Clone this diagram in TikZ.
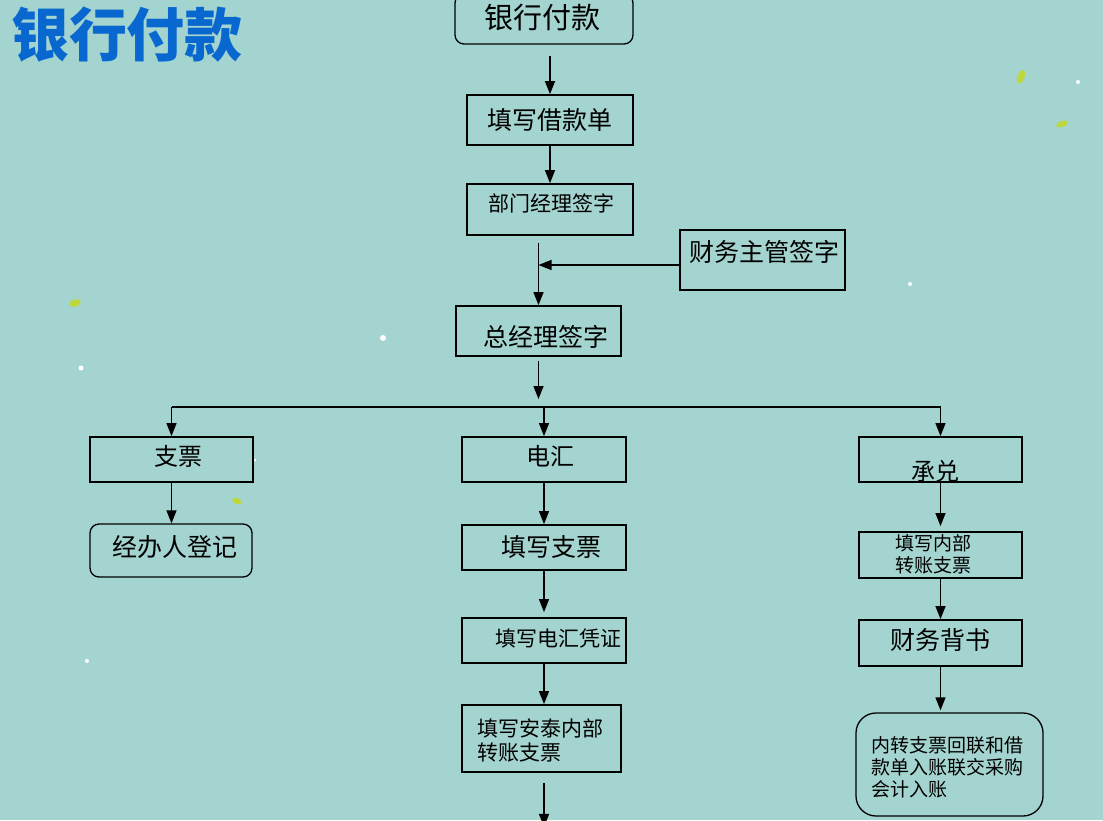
\documentclass[tikz,border=0pt]{standalone}
\usepackage{fontspec}
\setmainfont{Noto Sans CJK SC}
\usetikzlibrary{arrows.meta,calc}
\definecolor{bg}{RGB}{164,212,207}
\definecolor{titleblue}{RGB}{8,104,208}
\definecolor{leaf}{RGB}{190,215,60}
\newcommand{\fsz}[1]{\fontsize{#1}{#1}\selectfont}
\tikzset{
  box/.style={draw=black, line width=1.8pt, inner sep=0pt},
  rbox/.style={box, line width=1.3pt, rounded corners=9pt},
  arr/.style={line width=1.4pt, -{Triangle[length=13pt,width=10pt]}},
  plain/.style={line width=1.4pt},
  txt/.style={inner sep=0pt, text=black},
  ltxt/.style={txt, anchor=west, align=left},
}
\begin{document}
\begin{tikzpicture}[x=1pt,y=-1pt]
\fill[bg] (0,0) rectangle (1103,820);
\useasboundingbox (0,0) rectangle (1103,820);

% decorations
\fill[leaf, rotate around={-20:(1021,77)}] (1021,77) ellipse (3.5pt and 7pt);
\fill[leaf, rotate around={20:(1062,124)}] (1062,124) ellipse (6pt and 3pt);
\fill[leaf, rotate around={15:(75,303)}] (75,303) ellipse (6pt and 3.5pt);
\fill[leaf, rotate around={-20:(237,501)}] (237,501) ellipse (5pt and 3pt);
\fill[white] (1078,82) circle (2pt);
\fill[white] (910,284) circle (2pt);
\fill[white] (383,338) circle (3pt);
\fill[white] (81,368) circle (2.5pt);
\fill[white] (87,661) circle (2pt);
\fill[white] (255,460) circle (1.5pt);

% title
\node[txt, text=titleblue, font=\bfseries\fsz{58}] (title) at (127,35) {银行付款};

% boxes
\node[rbox, minimum width=178pt, minimum height=50pt] (b1) at (544,19) {};
\node[txt, font=\fsz{29}] (t1) at (542,18) {银行付款};

\node[box, minimum width=166pt, minimum height=50pt, font=\fsz{25}] (b2) at (550,120) {填写借款单};

\node[box, minimum width=166pt, minimum height=51pt] (b3) at (550,209.5) {};
\node[txt, font=\fsz{21}] (t3) at (551,203) {部门经理签字};

\node[box, minimum width=165pt, minimum height=60pt] (b4) at (762.5,260) {};
\node[txt, font=\fsz{25}] (t4) at (764,252) {财务主管签字};

\node[box, minimum width=165pt, minimum height=50pt] (b5) at (538.5,331) {};
\node[txt, font=\fsz{25}] (t5) at (546,337) {总经理签字};

\node[box, minimum width=163pt, minimum height=45pt] (zp) at (171.5,459.5) {};
\node[txt, font=\fsz{24}] (tzp) at (178,456) {支票};

\node[rbox, minimum width=162pt, minimum height=53pt] (jb) at (171,550.5) {};
\node[txt, font=\fsz{25}] (tjb) at (175,547) {经办人登记};

\node[box, minimum width=164pt, minimum height=45pt] (dh) at (544,459.5) {};
\node[txt, font=\fsz{24}] (tdh) at (550,456) {电汇};

\node[box, minimum width=164pt, minimum height=45pt] (tz) at (544,547.5) {};
\node[txt, font=\fsz{25}] (ttz) at (551,547) {填写支票};

\node[box, minimum width=164pt, minimum height=45pt] (tp) at (544,640.5) {};
\node[txt, font=\fsz{21}] (ttp) at (558,638) {填写电汇凭证};

\node[box, minimum width=159pt, minimum height=67pt] (ta) at (541.5,738.5) {};
\node[ltxt, font=\fsz{21}] (tta1) at (477,728) {填写安泰内部};
\node[ltxt, font=\fsz{21}] (tta2) at (477,753) {转账支票};

\node[box, minimum width=163pt, minimum height=45pt] (cd) at (940.5,459.5) {};
\node[txt, font=\fsz{24}] (tcd) at (935,471) {承兑};

\node[box, minimum width=163pt, minimum height=46pt] (tn) at (940.5,555) {};
\node[ltxt, font=\fsz{19}] (ttn1) at (895,543) {填写内部};
\node[ltxt, font=\fsz{19}] (ttn2) at (895,565) {转账支票};

\node[box, minimum width=163pt, minimum height=46pt] (cw) at (940.5,643) {};
\node[txt, font=\fsz{25}] (tcw) at (940,640) {财务背书};

\node[rbox, rounded corners=20pt, minimum width=187pt, minimum height=103pt] (nz) at (949.5,764.5) {};
\node[ltxt, font=\fsz{19}] (tnz1) at (871,745) {内转支票回联和借};
\node[ltxt, font=\fsz{19}] (tnz2) at (871,767) {款单入账联交采购};
\node[ltxt, font=\fsz{19}] (tnz3) at (871,789) {会计入账};

% connectors
\draw[arr, shorten <=11pt] (b1.south -| b2.north) -- (b2.north);
\draw[arr] (b2.south) -- (b3.north);
\coordinate (m5) at (b5.north |- b3.south);
\draw[arr, shorten <=7pt] (m5) -- (b5.north);
\coordinate (j4) at ($(b4.west)+(0,5)$);
\draw[arr] (j4) -- (j4 -| b5.north);
\coordinate (hl) at (0,407);
\coordinate (s5) at ($(b5.north |- hl)+(0,-8)$);
\draw[arr, shorten <=4pt] (b5.south) -- (s5);
\draw[plain] (zp.north |- hl) -- (cd.north |- hl);
\draw[arr] (zp.north |- hl) -- (zp.north);
\draw[arr] (dh.north |- hl) -- (dh.north);
\draw[arr] (cd.north |- hl) -- (cd.north);
\draw[arr] (zp.south) -- (jb.north -| zp.south);
\draw[arr] (dh.south) -- (tz.north);
\draw[arr] (tz.south) -- ($(tp.north)+(0,-5)$);
\draw[arr] (tp.south) -- (ta.north -| tp.south);
\coordinate (out) at ($(ta.south -| tp.south)+(0,54)$);
\draw[arr, shorten <=10pt] (ta.south -| tp.south) -- (out);
\draw[arr] (cd.south) -- ($(tn.north)+(0,-5)$);
\draw[arr] (tn.south) -- (cw.north);
\draw[arr] (cw.south) -- ($(nz.north -| cw.south)+(0,-2)$);
\end{tikzpicture}
\end{document}
